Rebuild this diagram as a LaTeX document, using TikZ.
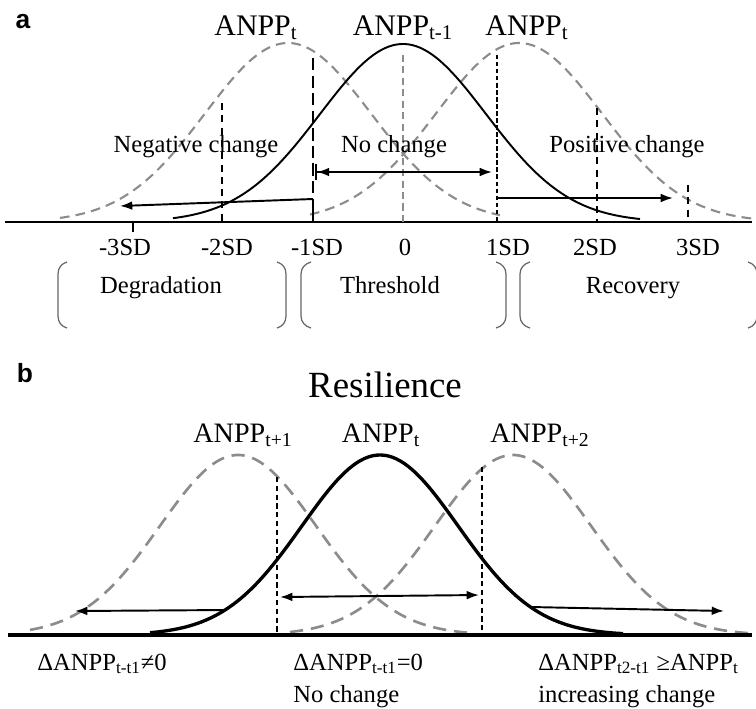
\documentclass[tikz,border=0pt]{standalone}
\usepackage{fontspec}
\setmainfont{Liberation Serif}
\newfontfamily\panelfont{Liberation Sans}
\usetikzlibrary{arrows.meta}

\tikzset{
  lbl/.style={font=\fontsize{14}{16}\selectfont, inner sep=0pt},
  anpp/.style={font=\fontsize{17}{19}\selectfont, inner sep=0pt},
  anppb/.style={font=\fontsize{16}{18}\selectfont, inner sep=0pt},
  paneltag/.style={font=\panelfont\bfseries\fontsize{15}{17}\selectfont, inner sep=0pt},
  graycurve/.style={black!45, line width=1.2pt, dash pattern=on 5.5pt off 3.5pt},
  graycurveb/.style={black!45, line width=1.5pt, dash pattern=on 7.5pt off 4.5pt},
  solidcurve/.style={black, line width=1.1pt},
  solidcurveb/.style={black, line width=1.9pt},
  axisline/.style={black, line width=1.5pt},
  vlong/.style={black, line width=1.5pt, dash pattern=on 7pt off 3pt},
  vshort/.style={black, line width=1.5pt, dash pattern=on 2.5pt off 1.5pt},
  vmid/.style={black, line width=1.2pt, dash pattern=on 4pt off 3pt},
  vgray/.style={black!45, line width=0.9pt, dash pattern=on 4pt off 2.5pt},
  vb/.style={black, line width=1.3pt, dash pattern=on 3pt off 2pt},
  arr/.style={line width=1.1pt, -{Latex[length=7pt,width=5pt]}},
  bracket/.style={black!60, line width=0.7pt},
}

\begin{document}
\begin{tikzpicture}[x=0.02cm, y=-0.02cm]
\useasboundingbox (0,0) rectangle (756,708);

% ---------- panel a ----------
\node[paneltag, anchor=base] (tagA) at (23,28) {a};
\node[anpp, anchor=base] (aLeft) at (256,35) {ANPP\textsubscript{t}};
\node[anpp, anchor=base] (aMid) at (403,35) {ANPP\textsubscript{t-1}};
\node[anpp, anchor=base] (aRight) at (527,35) {ANPP\textsubscript{t}};

\draw[graycurve, domain=60:500, samples=120] plot (\x, {222-179*exp(-0.5*((\x-288)/83)^2)});
\draw[graycurve, domain=310:752, samples=120] plot (\x, {222-179*exp(-0.5*((\x-519)/83)^2)});
\draw[solidcurve, domain=173:640, samples=120] plot (\x, {222-178*exp(-0.5*((\x-403)/83)^2)});

\coordinate (axAL) at (5,222);
\coordinate (axAR) at (752,222);
\draw[axisline] (axAL) -- (axAR);

% verticals at the SD marks
\coordinate (m1top) at (313,58);
\coordinate (m1low) at (313,199);
\coordinate (m1base) at (313,222);
\draw[vlong] (m1top) -- (m1low);
\draw[solidcurve] (m1low) -- (m1base);
\draw[vgray] (403,55) -- (403,222);
\draw[vshort] (497,55) -- (497,222);
\draw[vmid] (222,103) -- (222,222);
\draw[vmid] (597,108) -- (597,222);
\draw[vmid] (688,185) -- (688,222);
\draw[solidcurve] (133,222) -- (133,232);

% change arrows
\coordinate (negEnd) at (120,206);
\coordinate (ncL) at (315,172);
\coordinate (ncR) at (492,172);
\coordinate (posS) at (497,198);
\coordinate (posEnd) at (673,198);
\draw[arr] (m1low) -- (negEnd);
\draw[line width=1.1pt, {Bar[width=9pt]Latex[length=7pt,width=5pt]}-{Latex[length=7pt,width=5pt]}] (ncL) -- (ncR);
\draw[arr] (posS) -- (posEnd);

\node[lbl, anchor=base] (negTxt) at (196,152) {Negative change};
\node[lbl, anchor=base] (noTxt) at (394,152) {No change};
\node[lbl, anchor=base] (posTxt) at (627,152) {Positive change};

% SD labels
\node[lbl, anchor=base] (sdm3) at (125,255) {-3SD};
\node[lbl, anchor=base] (sdm2) at (227,255) {-2SD};
\node[lbl, anchor=base] (sdm1) at (317,255) {-1SD};
\node[lbl, anchor=base] (sd0) at (405,255) {0};
\node[lbl, anchor=base] (sdp1) at (508,255) {1SD};
\node[lbl, anchor=base] (sdp2) at (595,255) {2SD};
\node[lbl, anchor=base] (sdp3) at (698,255) {3SD};

% zones
\draw[bracket] (67,262) to[out=195,in=90] (58,274) -- (58,316) to[out=-90,in=165] (67,328);
\draw[bracket] (277,262) to[out=-15,in=90] (286,274) -- (286,316) to[out=-90,in=15] (277,328);
\draw[bracket] (311,262) to[out=195,in=90] (301,274) -- (301,316) to[out=-90,in=165] (311,328);
\draw[bracket] (496,262) to[out=-15,in=90] (506,274) -- (506,316) to[out=-90,in=15] (496,328);
\draw[bracket] (530,262) to[out=195,in=90] (520,274) -- (520,316) to[out=-90,in=165] (530,328);
\draw[bracket] (748,262) to[out=-15,in=90] (757,274) -- (757,316) to[out=-90,in=15] (748,328);
\node[lbl, anchor=base] (degTxt) at (161,293) {Degradation};
\node[lbl, anchor=base] (thrTxt) at (390,293) {Threshold};
\node[lbl, anchor=base] (recTxt) at (633,293) {Recovery};

% ---------- panel b ----------
\node[paneltag, anchor=base] (tagB) at (25,382) {b};
\node[font=\fontsize{21}{24}\selectfont, inner sep=0pt, anchor=base] (resTxt) at (385,397) {Resilience};
\node[anppb, anchor=base] (bLeft) at (243,442) {ANPP\textsubscript{t+1}};
\node[anppb, anchor=base] (bMid) at (381,442) {ANPP\textsubscript{t}};
\node[anppb, anchor=base] (bRight) at (540,442) {ANPP\textsubscript{t+2}};

\draw[graycurveb, domain=30:475, samples=120] plot (\x, {635-180*exp(-0.5*((\x-238)/78)^2)});
\draw[graycurveb, domain=290:752, samples=120] plot (\x, {635-180*exp(-0.5*((\x-513)/78)^2)});
\draw[solidcurveb, domain=150:623, samples=120] plot (\x, {635-180*exp(-0.5*((\x-380)/78)^2)});

\coordinate (axBL) at (8,635);
\coordinate (axBR) at (752,635);
\draw[black, line width=2.3pt] (axBL) -- (axBR);

\draw[vb] (277,477) -- (277,635);
\draw[vb] (482,467) -- (482,635);

\coordinate (bnL) at (280,597);
\coordinate (bnR) at (479,595);
\coordinate (bleftS) at (227,610);
\coordinate (bleftE) at (75,611);
\coordinate (brightS) at (531,607);
\coordinate (brightE) at (724,611);
\draw[line width=1.1pt, {Latex[length=7pt,width=5pt]}-{Latex[length=7pt,width=5pt]}] (bnL) -- (bnR);
\draw[arr] (bleftS) -- (bleftE);
\draw[arr] (brightS) -- (brightE);

\node[lbl, anchor=base west] (dNeg) at (37,670) {ΔANPP\textsubscript{t-t1}≠0};
\node[lbl, anchor=base west] (dZero) at (293,670) {ΔANPP\textsubscript{t-t1}=0};
\node[lbl, anchor=base west] (dNoTxt) at (293,702) {No change};
\node[lbl, anchor=base west] (dPos) at (538,670) {ΔANPP\textsubscript{t2-t1} ≥ANPP\textsubscript{t}};
\node[lbl, anchor=base west] (dIncTxt) at (538,702) {increasing change};
\end{tikzpicture}
\end{document}
